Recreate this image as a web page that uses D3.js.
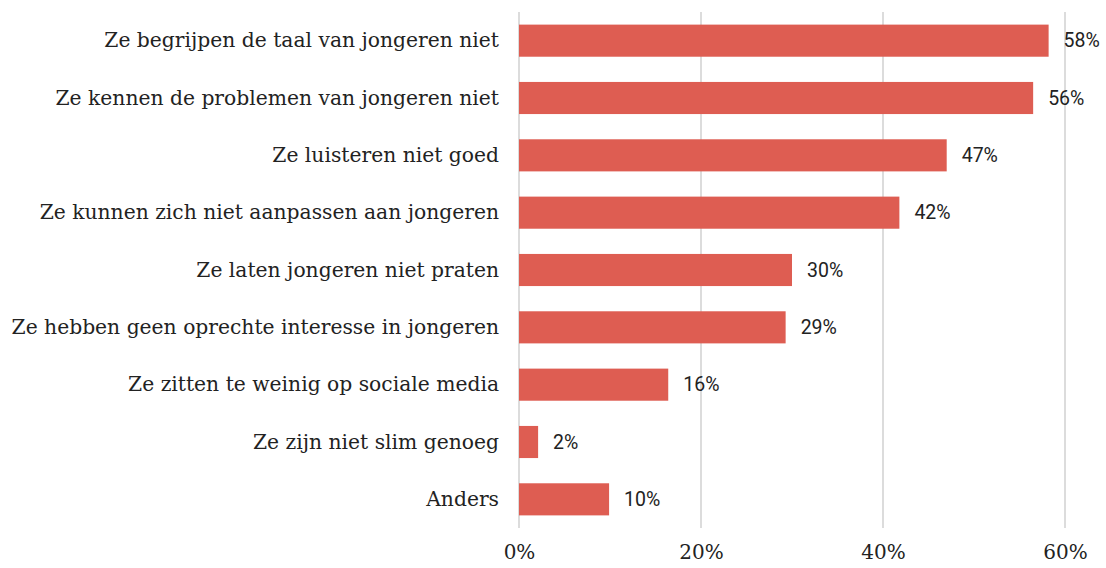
<!DOCTYPE html>
<html>
<head>
<meta charset="utf-8">
<script src="https://cdn.jsdelivr.net/npm/d3@7/dist/d3.min.js"></script>
<style>
  body { margin: 0; background: #fff; }
</style>
</head>
<body>
<script>
var g_width = 1106
var g_height = 568

// data
var categories = [
    "Ze begrijpen de taal van jongeren niet",
    "Ze kennen de problemen van jongeren niet",
    "Ze luisteren niet goed",
    "Ze kunnen zich niet aanpassen aan jongeren",
    "Ze laten jongeren niet praten",
    "Ze hebben geen oprechte interesse in jongeren",
    "Ze zitten te weinig op sociale media",
    "Ze zijn niet slim genoeg",
    "Anders"
]
var values = [58.2, 56.5, 47.0, 41.8, 30.0, 29.3, 16.4, 2.1, 9.9]
var valueLabels = ["58%", "56%", "47%", "42%", "30%", "29%", "16%", "2%", "10%"]
var ticks = [0, 20, 40, 60]

var margin = { left: 519, top: 12, bottom: 528 }

var svg = d3.select("body")
    .append("svg")
    .attr("width", g_width)
    .attr("height", g_height)

var xScale = d3.scaleLinear().domain([0, 60]).range([margin.left, 1065])
var yScale = d3.scaleBand().domain(categories).range([margin.top, margin.bottom]).paddingInner(0.44).paddingOuter(0.22)

// grid lines
svg.append("g")
    .selectAll("line")
    .data(ticks)
    .enter().append("line")
    .attr("x1", d => xScale(d))
    .attr("x2", d => xScale(d))
    .attr("y1", margin.top)
    .attr("y2", margin.bottom)
    .attr("stroke", "#dcdcdc")
    .attr("stroke-width", 2)

// x axis labels
var xAxis = d3.axisBottom(xScale).tickValues(ticks).tickSize(0).tickFormat(d => d + "%")
var xAxisPlot = svg.append("g")
    .attr("transform", "translate(0,542)")
    .call(xAxis)
xAxisPlot.select(".domain").remove()
xAxisPlot.selectAll("text")
    .attr("font-family", "'DejaVu Serif', serif")
    .attr("font-size", 20)
    .attr("fill", "#222")

// category labels
var yAxis = d3.axisLeft(yScale).tickSize(0).tickPadding(20)
var yAxisPlot = svg.append("g")
    .attr("transform", "translate(" + margin.left + ",0)")
    .call(yAxis)
yAxisPlot.select(".domain").remove()
yAxisPlot.selectAll("text")
    .attr("font-family", "'DejaVu Serif', serif")
    .attr("font-size", 20.3)
    .attr("fill", "#222")

// bars
svg.append("g")
    .selectAll("rect")
    .data(values)
    .enter().append("rect")
    .attr("x", xScale(0))
    .attr("y", (d, i) => yScale(categories[i]))
    .attr("width", d => xScale(d) - xScale(0))
    .attr("height", yScale.bandwidth())
    .attr("fill", "#de5d52")

// value labels
svg.append("g")
    .selectAll("text")
    .data(values)
    .enter().append("text")
    .attr("x", d => xScale(d) + 15)
    .attr("y", (d, i) => yScale(categories[i]) + yScale.bandwidth() / 2)
    .attr("dy", "0.35em")
    .attr("font-family", "Roboto, sans-serif")
    .attr("font-size", 19.5)
    .attr("fill", "#222")
    .text((d, i) => valueLabels[i])
</script>
</body>
</html>
